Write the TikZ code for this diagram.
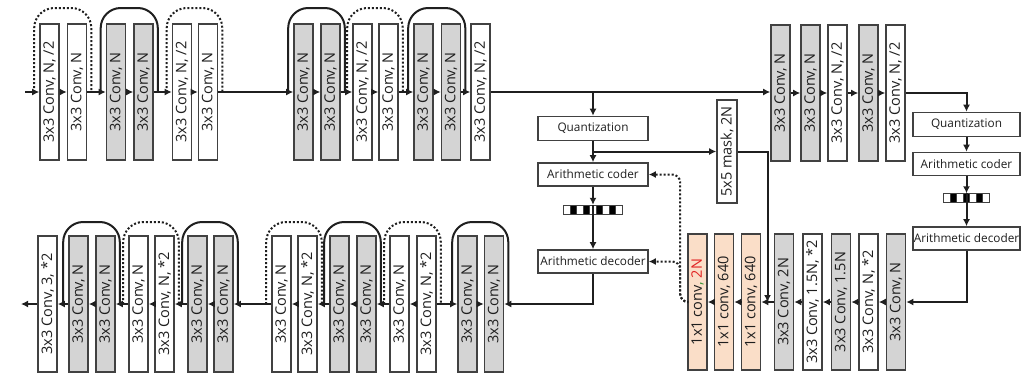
\documentclass[tikz,border=0pt]{standalone}
\usepackage{fontspec}
\usepackage{graphicx}
\setmainfont{Open Sans}
\usetikzlibrary{arrows.meta}

\definecolor{boxgray}{RGB}{212,212,212}
\definecolor{peach}{RGB}{250,222,200}
\definecolor{edge}{RGB}{65,65,65}
\definecolor{ink}{RGB}{30,30,30}
\definecolor{redtxt}{RGB}{225,35,35}
\definecolor{greentxt}{RGB}{60,150,60}

\newcommand\uptext[1]{\rotatebox{90}{#1}}

% skip connection drawn as an arch over two layers
% #1 style, #2 first node, #3 second node, #4 top coordinate
\newcommand\arch[4]{%
  \coordinate (archL) at ([xshift=-5pt]#2.west);
  \coordinate (archR) at ([xshift=4pt]#3.east);
  \draw[#1] (archL) -- (archL |- #4) -- (archR |- #4) -- (archR);}

% bit-stream strip: #1 node name, #2 number of cells
\newcommand\cells[2]{%
  \foreach \i in {1,...,#2}{
    \pgfmathtruncatemacro\k{\i-1}
    \pgfmathsetmacro\fc{mod(\i,2)==0 ? 1 : 0}
    \ifdim\fc pt>0.5pt
      \filldraw[draw=edge, fill=black, line width=0.8pt] ([xshift=\k*6.5pt]#1.south west) rectangle ++(6.5,-9);
    \else
      \filldraw[draw=edge, fill=white, line width=0.8pt] ([xshift=\k*6.5pt]#1.south west) rectangle ++(6.5,-9);
    \fi}}

\tikzset{
  conv/.style={draw=edge, line width=1.6pt, minimum width=19pt, minimum height=136pt,
    inner sep=0pt, text=ink, font=\fontsize{14.5}{15}\selectfont},
  gconv/.style={conv, fill=boxgray},
  wconv/.style={conv, fill=white},
  pconv/.style={conv, fill=peach},
  block/.style={draw=edge, line width=1.6pt, minimum width=110pt, minimum height=24pt,
    inner sep=0pt, text=ink, font=\fontsize{11.8}{12}\selectfont},
  strip/.style={inner sep=0pt, minimum height=9pt},
  flow/.style={line width=2pt, draw=black!88, -{Latex[length=7pt,width=7pt]}},
  dflow/.style={flow, dash pattern=on 2pt off 2pt, rounded corners=8pt},
  link/.style={line width=2pt, draw=black!88},
  skip/.style={line width=2pt, draw=black!88, rounded corners=20pt},
  dskip/.style={skip, dash pattern=on 2pt off 2pt},
}

\begin{document}
\begin{tikzpicture}[x=1pt,y=-1pt]
\useasboundingbox (0,0) rectangle (1026,378);

% ---------- encoder, top row ----------
\node[wconv] (T1)  at (49.5,92)  {\uptext{3x3 Conv, N, /2}};
\node[wconv] (T2)  at (77,92)    {\uptext{3x3 Conv, N}};
\node[gconv] (T3)  at (116,92)   {\uptext{3x3 Conv, N}};
\node[gconv] (T4)  at (143.5,92) {\uptext{3x3 Conv, N}};
\node[wconv] (T5)  at (182,92)   {\uptext{3x3 Conv, N, /2}};
\node[wconv] (T6)  at (208,92)   {\uptext{3x3 Conv, N}};
\node[gconv] (T7)  at (303.5,92) {\uptext{3x3 Conv, N}};
\node[gconv] (T8)  at (330.5,92) {\uptext{3x3 Conv, N}};
\node[wconv] (T9)  at (362.5,92) {\uptext{3x3 Conv, N, /2}};
\node[wconv] (T10) at (388.5,92) {\uptext{3x3 Conv, N}};
\node[gconv] (T11) at (423.5,92) {\uptext{3x3 Conv, N}};
\node[gconv] (T12) at (451,92)   {\uptext{3x3 Conv, N}};
\node[wconv] (T13) at (480.5,92) {\uptext{3x3 Conv, N, /2}};

\node[gconv] (R1) at (780.5,93) {\uptext{3x3 Conv, N}};
\node[gconv] (R2) at (810.5,93) {\uptext{3x3 Conv, N}};
\node[wconv] (R3) at (837.5,93) {\uptext{3x3 Conv, N, /2}};
\node[gconv] (R4) at (868.5,93) {\uptext{3x3 Conv, N}};
\node[wconv] (R5) at (895.5,93) {\uptext{3x3 Conv, N, /2}};

% ---------- entropy coding blocks ----------
\node[block] (Q1)  at (593,128.5) {Quantization};
\node[block, minimum height=23pt] (AC1) at (593,174.5) {Arithmetic coder};
\node[strip, minimum width=58.5pt] (bits1) at (593,209.5) {};
\node[block, minimum height=23pt] (AD1) at (593,261.5) {Arithmetic decoder};
\node[wconv, minimum width=20pt, minimum height=103pt] (M) at (727,151.5) {\uptext{5x5 mask, 2N}};

\node[block, minimum width=107pt] (Q2)  at (966.5,124.5) {Quantization};
\node[block, minimum width=107pt, minimum height=23pt] (AC2) at (966.5,164) {Arithmetic coder};
\node[strip, minimum width=45.5pt] (bits2) at (966.5,198) {};
\node[block, minimum width=107pt, minimum height=23pt] (AD2) at (966.5,238.5) {Arithmetic decoder};

\cells{bits1}{9}
\cells{bits2}{7}

% ---------- decoder, bottom row ----------
\node[wconv] (E1) at (47.5,304)  {\uptext{3x3 Conv, 3, *2}};
\node[gconv] (E2) at (78.5,304)  {\uptext{3x3 Conv, N}};
\node[gconv] (E3) at (105.5,304) {\uptext{3x3 Conv, N}};
\node[wconv] (E4) at (138.5,304) {\uptext{3x3 Conv, N}};
\node[wconv] (E5) at (164.5,304) {\uptext{3x3 Conv, N, *2}};
\node[gconv] (E6) at (197.5,304) {\uptext{3x3 Conv, N}};
\node[gconv] (E7) at (223.5,304) {\uptext{3x3 Conv, N}};

\node[wconv] (D1) at (281.5,304) {\uptext{3x3 Conv, N}};
\node[wconv] (D2) at (307.5,304) {\uptext{3x3 Conv, N, *2}};
\node[gconv] (D3) at (339.5,304) {\uptext{3x3 Conv, N}};
\node[gconv] (D4) at (366.5,304) {\uptext{3x3 Conv, N}};
\node[wconv] (D5) at (399.5,304) {\uptext{3x3 Conv, N}};
\node[wconv] (D6) at (426.5,304) {\uptext{3x3 Conv, N, *2}};
\node[gconv] (D7) at (467.5,304) {\uptext{3x3 Conv, N}};
\node[gconv] (D8) at (494,304)   {\uptext{3x3 Conv, N}};

\node[pconv] (C1) at (697.5,302) {\uptext{1x1 conv{\color{greentxt},} {\color{redtxt}2N}}};
\node[pconv] (C2) at (724,302)   {\uptext{1x1 conv, 640}};
\node[pconv] (C3) at (751,302)   {\uptext{1x1 conv, 640}};

\node[gconv] (B1) at (784,302)   {\uptext{3x3 Conv, 2N}};
\node[wconv] (B2) at (812.5,302) {\uptext{3x3 Conv, 1.5N, *2}};
\node[gconv] (B3) at (841,302)   {\uptext{3x3 Conv, 1.5N}};
\node[wconv] (B4) at (868.5,302) {\uptext{3x3 Conv, N, *2}};
\node[gconv] (B5) at (896,302)   {\uptext{3x3 Conv, N}};

% ---------- free ends and arch heights ----------
\coordinate (in)     at (25,92);
\coordinate (out)    at (21,304);
\coordinate (topU)   at (0,8);
\coordinate (topD)   at (0,222);
\coordinate (mkdrop) at (767.5,302);

% ---------- main flow, top row ----------
\draw[flow] (in) -- (T1.west);
\draw[flow] (T1.east) -- (T2.west);
\draw[flow] (T2.east) -- (T3.west);
\draw[flow] (T3.east) -- (T4.west);
\draw[flow] (T4.east) -- (T5.west);
\draw[flow] (T5.east) -- (T6.west);
\draw[flow] (T6.east) -- (T7.west);
\draw[flow] (T7.east) -- (T8.west);
\draw[flow] (T8.east) -- (T9.west);
\draw[flow] (T9.east) -- (T10.west);
\draw[flow] (T10.east) -- (T11.west);
\draw[flow] (T11.east) -- (T12.west);
\draw[flow] (T12.east) -- (T13.west);
\draw[flow] (T13.east) -- (T13.east -| R1.west);
\draw[flow] (R1.east) -- (R2.west);
\draw[flow] (R2.east) -- (R3.west);
\draw[flow] (R3.east) -- (R4.west);
\draw[flow] (R4.east) -- (R5.west);
\draw[flow] (R5.east) -| (Q2.north);

% skip connections, top row
\arch{dskip}{T1}{T2}{topU}
\arch{skip}{T3}{T4}{topU}
\arch{dskip}{T5}{T6}{topU}
\arch{skip}{T7}{T8}{topU}
\arch{dskip}{T9}{T10}{topU}
\arch{skip}{T11}{T12}{topU}

% ---------- latent coding path ----------
\coordinate (br1) at (T13.east -| Q1.north);
\coordinate (br2) at (Q1.south |- M.west);
\draw[flow] (br1) -- (Q1.north);
\draw[flow] (Q1.south) -- (AC1.north);
\draw[flow] (br2) -- (M.west);
\draw[flow] (M.east) -| (mkdrop);
\draw[flow] (AC1.south) -- (bits1.north);
\draw[link] (bits1.north) -- (bits1.south);
\draw[flow] (bits1.south) -- (AD1.north);
\draw[flow] (AD1.south) |- (D8.east);

\draw[flow] (Q2.south) -- (AC2.north);
\draw[flow] (AC2.south) -- (bits2.north);
\draw[link] (bits2.north) -- (bits2.south);
\draw[flow] (bits2.south) -- (AD2.north);
\draw[flow] (AD2.south) |- (B5.east);

% context model outputs to the coders
\draw[dflow] (C1.west) -- ++(-7,0) |- (AD1.east);
\draw[dflow] (C1.west) -- ++(-7,0) |- (AC1.east);

% ---------- main flow, bottom row ----------
\draw[flow] (B5.west) -- (B4.east);
\draw[flow] (B4.west) -- (B3.east);
\draw[flow] (B3.west) -- (B2.east);
\draw[flow] (B2.west) -- (B1.east);
\draw[flow] (B1.west) -- (C3.east);
\draw[flow] (C3.west) -- (C2.east);
\draw[flow] (C2.west) -- (C1.east);

\draw[flow] (D7.east) -- (D8.west);
\draw[flow] (D6.east) -- (D7.west);
\draw[flow] (D6.west) -- (D5.east);
\draw[flow] (D5.west) -- (D4.east);
\draw[flow] (D4.west) -- (D3.east);
\draw[flow] (D3.west) -- (D2.east);
\draw[flow] (D2.west) -- (D1.east);
\draw[flow] (D1.west) -- (E7.east);
\draw[flow] (E7.west) -- (E6.east);
\draw[flow] (E6.west) -- (E5.east);
\draw[flow] (E5.west) -- (E4.east);
\draw[flow] (E4.west) -- (E3.east);
\draw[flow] (E3.west) -- (E2.east);
\draw[flow] (E2.west) -- (E1.east);
\draw[flow] (E1.west) -- (out);

% skip connections, bottom row
\arch{skip}{E2}{E3}{topD}
\arch{dskip}{E4}{E5}{topD}
\arch{skip}{E6}{E7}{topD}
\arch{dskip}{D1}{D2}{topD}
\arch{skip}{D3}{D4}{topD}
\arch{dskip}{D5}{D6}{topD}
\arch{skip}{D7}{D8}{topD}
\end{tikzpicture}
\end{document}
